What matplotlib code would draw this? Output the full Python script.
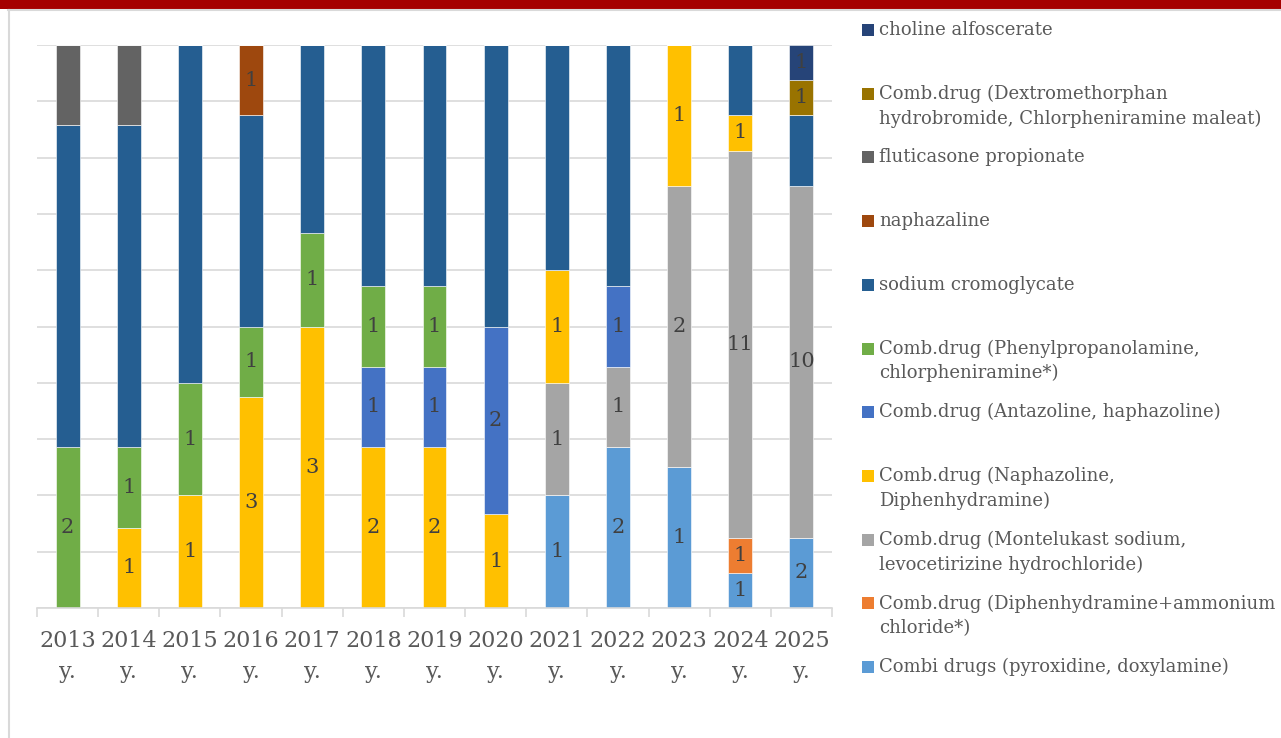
import matplotlib
matplotlib.use("Agg")
import matplotlib.pyplot as plt
import numpy as np
from matplotlib.patches import Rectangle
from matplotlib.lines import Line2D

# ---------------- data ----------------
years = ["2013", "2014", "2015", "2016", "2017", "2018", "2019",
         "2020", "2021", "2022", "2023", "2024", "2025"]
year_labels = [y + "\ny." for y in years]

pyroxidine_doxylamine   = [0, 0, 0, 0, 0, 0, 0, 0, 1, 2, 1, 1, 2]
diphenhydramine_ammon   = [0, 0, 0, 0, 0, 0, 0, 0, 0, 0, 0, 1, 0]
montelukast_levocetir   = [0, 0, 0, 0, 0, 0, 0, 0, 1, 1, 2, 11, 10]
naphazoline_diphenhydr  = [0, 1, 1, 3, 3, 2, 2, 1, 1, 0, 1, 1, 0]
antazoline_haphazoline  = [0, 0, 0, 0, 0, 1, 1, 2, 0, 1, 0, 0, 0]
phenylpropanolamine     = [2, 1, 1, 1, 1, 1, 1, 0, 0, 0, 0, 0, 0]
sodium_cromoglycate     = [4, 4, 3, 3, 2, 3, 3, 3, 2, 3, 0, 2, 2]
naphazaline             = [0, 0, 0, 1, 0, 0, 0, 0, 0, 0, 0, 0, 0]
fluticasone_propionate  = [1, 1, 0, 0, 0, 0, 0, 0, 0, 0, 0, 0, 0]
dextromethorphan_chlor  = [0, 0, 0, 0, 0, 0, 0, 0, 0, 0, 0, 0, 1]
choline_alfoscerate     = [0, 0, 0, 0, 0, 0, 0, 0, 0, 0, 0, 0, 1]

series_names = [
    "Combi drugs (pyroxidine, doxylamine)",
    "Comb.drug (Diphenhydramine+ammonium\nchloride*)",
    "Comb.drug (Montelukast sodium,\nlevocetirizine hydrochloride)",
    "Comb.drug (Naphazoline,\nDiphenhydramine)",
    "Comb.drug (Antazoline, haphazoline)",
    "Comb.drug (Phenylpropanolamine,\nchlorpheniramine*)",
    "sodium cromoglycate",
    "naphazaline",
    "fluticasone propionate",
    "Comb.drug (Dextromethorphan\nhydrobromide, Chlorpheniramine maleat)",
    "choline alfoscerate",
]
series_values = [
    pyroxidine_doxylamine, diphenhydramine_ammon, montelukast_levocetir,
    naphazoline_diphenhydr, antazoline_haphazoline, phenylpropanolamine,
    sodium_cromoglycate, naphazaline, fluticasone_propionate,
    dextromethorphan_chlor, choline_alfoscerate,
]
series_colors = ["#5B9BD5", "#ED7D31", "#A5A5A5", "#FFC000", "#4472C4",
                 "#70AD47", "#255E91", "#9E480E", "#636363", "#997300",
                 "#264478"]
show_labels = [True, True, True, True, True, True, False, True, False,
               True, True]

# ---------------- figure ----------------
W, H = 1281, 738
fig = plt.figure(figsize=(W / 100, H / 100), dpi=100)
fig.patch.set_facecolor("white")

FONT = "DejaVu Serif"
TXT = "#595959"
GRID = "#D9D9D9"

ax = fig.add_axes([37 / W, 1 - 608 / H, (832 - 37) / W, (608 - 45) / H])

vals = np.array(series_values, dtype=float)
totals = vals.sum(axis=0)
pct = vals / totals * 100
x = np.arange(len(years))
bottom = np.zeros(len(years))
for name, v, p, c, lab in zip(series_names, vals, pct, series_colors, show_labels):
    ax.bar(x, p, width=0.39, bottom=bottom, color=c,
           edgecolor="white", linewidth=0.4, zorder=3)
    if lab:
        for xi, vi, pi, bi in zip(x, v, p, bottom):
            if vi > 0:
                ax.text(xi, bi + pi / 2, f"{int(vi)}", ha="center", va="center",
                        fontsize=15, family=FONT, color="#404040", zorder=4)
    bottom += p

ax.set_xlim(-0.5, len(years) - 0.5)
ax.set_ylim(0, 100)
ax.set_yticks(np.arange(0, 101, 10))
ax.yaxis.grid(True, color=GRID, linewidth=1.2, zorder=0)
ax.tick_params(axis="y", left=False, labelleft=False)
for s in ["top", "right", "left"]:
    ax.spines[s].set_visible(False)
ax.spines["bottom"].set_color(GRID)
ax.spines["bottom"].set_linewidth(1.2)
ax.spines["bottom"].set_zorder(5)

ax.set_xticks(x)
ax.set_xticklabels(year_labels, family=FONT, fontsize=16, color=TXT,
                   linespacing=1.5)
ax.tick_params(axis="x", which="major", length=0, pad=16)
ax.set_xticks(np.arange(-0.5, len(years), 1), minor=True)
ax.tick_params(axis="x", which="minor", length=6.5, width=1.2, color=GRID)

# ---------------- legend (manual, reversed order) ----------------
y0 = 30
dy = 63.7
for i, (name, c) in enumerate(zip(series_names[::-1], series_colors[::-1])):
    yc = y0 + i * dy
    fig.patches.append(Rectangle((862 / W, 1 - (yc + 6) / H), 12 / W, 12 / H,
                                 transform=fig.transFigure, facecolor=c,
                                 edgecolor="none"))
    fig.text(879 / W, 1 - (yc - 9) / H, name, ha="left", va="top",
             family=FONT, fontsize=13, color=TXT, linespacing=1.45)

# ---------------- frame / header ----------------
fig.patches.append(Rectangle((0, 1 - 9 / H), 1, 9 / H, transform=fig.transFigure,
                             facecolor="#A50000", edgecolor="none"))
fig.lines.append(Line2D([8 / W, 1], [1 - 10 / H, 1 - 10 / H],
                        transform=fig.transFigure, color=GRID, linewidth=1.5))
fig.lines.append(Line2D([8.5 / W, 8.5 / W], [0, 1 - 10 / H],
                        transform=fig.transFigure, color=GRID, linewidth=1.5))

fig.savefig("out.png", dpi=100)
